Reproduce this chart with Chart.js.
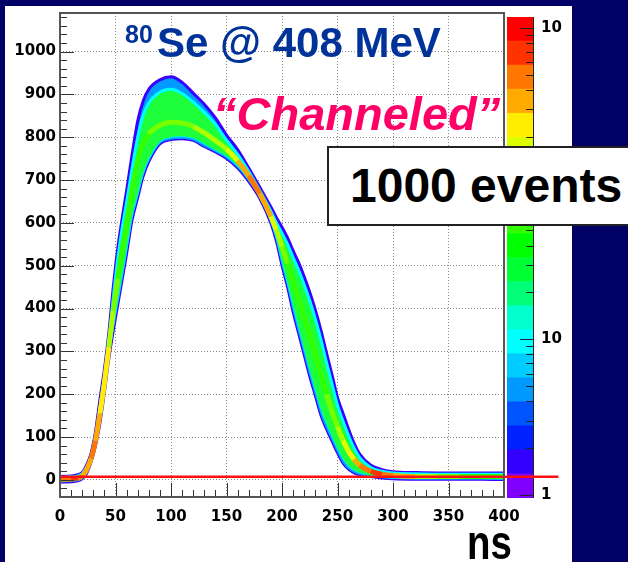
<!DOCTYPE html>
<html lang="en">
<head>
<meta charset="UTF-8">
<title>80Se @ 408 MeV - Channeled</title>
<script src="https://cdn.jsdelivr.net/npm/chart.js@4"></script>
<style>
  html, body { margin: 0; padding: 0; }
  body { width: 628px; height: 562px; background: #000066; position: relative; overflow: hidden;
         font-family: "Liberation Sans", Arial, sans-serif; }
  #panel { position: absolute; left: 5px; top: 6px; width: 567px; height: 556px; background: #fff; }
  #barCanvas { position: absolute; left: 500px; top: 0; z-index: 1; }
  #mainCanvas { position: absolute; left: 0; top: 0; z-index: 2; }
  .txt { position: absolute; z-index: 3; white-space: nowrap; font-weight: bold; }
  #iso { left: 125px; top: 22px; font-size: 25px; line-height: 25px; color: #003399; }
  #beam { left: 157px; top: 22px; font-size: 42px; line-height: 42px; color: #003399; }
  #chan { left: 213px; top: 90px; font-size: 47px; line-height: 47px; font-style: italic; color: #ff0066; }
  #events { left: 327px; top: 146px; width: 320px; height: 76px; border: 2px solid #222; background: #fff;
            font-size: 48px; line-height: 76px; padding-left: 21px; color: #000; }
  #unit { left: 467px; top: 519px; font-size: 48px; line-height: 48px; color: #000;
          transform: scaleX(0.8); transform-origin: left top; }
</style>
</head>
<body>
<div id="panel"></div>
<canvas id="barCanvas" width="80" height="520"></canvas>
<canvas id="mainCanvas" width="628" height="562"></canvas>
<div class="txt" id="iso">80</div>
<div class="txt" id="beam">Se @ 408 MeV</div>
<div class="txt" id="chan">“Channeled”</div>
<div class="txt" id="events">1000 events</div>
<div class="txt" id="unit">ns</div>
<script>
// sampling times (ns)
const timeNs = [0, 10, 16, 20, 24, 28, 32, 36, 40, 44, 48, 52, 56, 60, 65, 70, 75, 80, 90, 100,
  110, 120, 130, 140, 150, 160, 170, 180, 190, 195, 200, 205, 210, 215, 220, 225, 230, 235, 240, 245,
  250, 255, 260, 265, 270, 280, 290, 300, 320, 340, 360, 380, 400];

// outer edge of the pulse band (sparse bins)
const outerHigh = [8, 9, 12, 17, 35, 62, 113, 188, 258, 343, 450, 540, 610, 675, 760, 838, 885, 912, 934, 941,
  928, 903, 877, 845, 805, 771, 728, 683, 637, 612, 590, 565, 535, 507, 474, 438, 397, 350, 297, 246,
  192, 155, 118, 85, 60, 34, 24, 19, 17, 16, 16, 16, 16];
const outerLow = [-6, -5, -3, 2, 14, 40, 78, 130, 200, 280, 345, 405, 465, 525, 605, 657, 708, 742, 784, 794,
  796, 792, 778, 765, 750, 728, 696, 656, 598, 555, 498, 448, 390, 340, 290, 240, 195, 150, 118, 90,
  62, 38, 24, 16, 11, 7, 4, 2, 1, 1, 1, 1, 0];

// dense body of the band
const innerHigh = [6, 7, 9, 14, 30, 55, 100, 170, 240, 322, 425, 515, 588, 648, 728, 800, 852, 880, 905, 912,
  902, 882, 858, 830, 793, 760, 720, 675, 627, 600, 576, 550, 519, 489, 455, 418, 376, 328, 275, 224,
  174, 137, 103, 74, 52, 29, 20, 16, 14, 13, 13, 13, 13];
const innerLow = [-3, -2, 0, 4, 17, 45, 85, 140, 212, 292, 360, 420, 480, 540, 618, 668, 718, 750, 790, 800,
  802, 798, 785, 771, 756, 734, 702, 662, 606, 566, 512, 462, 408, 358, 308, 258, 212, 167, 133, 103,
  75, 50, 33, 23, 17, 11, 7, 5, 4, 4, 4, 4, 3];

// most populated path and its colour level (0 = fewest ... 19 = most)
const coreLine = [1, 2, 4, 9, 24, 50, 92, 155, 226, 310, 395, 470, 540, 600, 680, 745, 785, 808, 828, 835,
  833, 825, 810, 792, 772, 745, 710, 668, 615, 583, 545, 505, 462, 422, 380, 337, 292, 245, 200, 160,
  124, 92, 66, 48, 34, 20, 13, 10, 8, 8, 8, 8, 8];
const coreLevel = [17, 18, 17, 16, 16, 17, 16, 15, 15, 13, 12, 11, 11, 11, 11, 11, 11, 12, 12, 12,
  12, 13, 13, 13, 14, 16, 17, 16, 14, 13, 12, 11, 11, 11, 11, 11, 11, 11, 12, 12,
  13, 14, 15, 16, 17, 18, 17, 16, 13, 12, 11, 11, 11];

// colour palette of the z axis, bottom to top
const palette = ['#7f00ff', '#3300ff', '#0022ff', '#0055ff', '#0099ff', '#00ccff', '#00ffff', '#00ffcc',
  '#00ff77', '#00ff33', '#00ff00', '#33ff00', '#77ff00', '#aaff00', '#ddff00', '#ffee00',
  '#ffaa00', '#ff7700', '#ff3300', '#ff0000'];

// threshold line
const thresholdLevel = 7;
const thresholdSpan = [0, 449];

// axis ranges and labels
const xRange = [0, 400];
const yRange = [-40, 1090];
const colorbarRange = [0.957, 1175];
const colorbarTicks = [1, 10, 1000];
const colorbarTickText = ['1', '10', '10'];

const tickFont = { family: 'DejaVu Sans', weight: 'bold', size: 15 };

function points(values) {
  return timeNs.map((t, i) => ({ x: t, y: values[i] }));
}

// ticks drawn inside the frame, like the original
const frameTicks = {
  id: 'frameTicks',
  afterDraw(chart) {
    const { ctx, chartArea: a, scales: { x, y } } = chart;
    ctx.save();
    ctx.strokeStyle = '#333';
    ctx.lineWidth = 1;
    ctx.beginPath();
    for (let v = xRange[0]; v <= xRange[1]; v += 10) {
      const px = Math.round(x.getPixelForValue(v)) + 0.5;
      const len = v % 50 === 0 ? 14 : 7;
      ctx.moveTo(px, a.bottom);
      ctx.lineTo(px, a.bottom - len);
    }
    for (let v = -40; v <= 1080; v += 20) {
      const py = Math.round(y.getPixelForValue(v)) + 0.5;
      const len = v % 100 === 0 ? 14 : 7;
      ctx.moveTo(a.left, py);
      ctx.lineTo(a.left + len, py);
    }
    ctx.stroke();
    ctx.strokeStyle = '#555';
    ctx.lineWidth = 2;
    ctx.strokeRect(a.left, a.top, a.right - a.left, a.bottom - a.top);
    ctx.restore();
  }
};

const barTicks = {
  id: 'barTicks',
  afterDraw(chart) {
    const { ctx, chartArea: a } = chart;
    const s = chart.scales.y2;
    ctx.save();
    ctx.strokeStyle = '#222';
    ctx.lineWidth = 1;
    ctx.beginPath();
    for (let d = 1; d <= 1000; d *= 10) {
      for (let m = 1; m <= 9; m++) {
        const v = d * m;
        if (v > colorbarRange[1]) break;
        const py = Math.round(s.getPixelForValue(v)) + 0.5;
        const len = m === 1 ? 13 : 7;
        ctx.moveTo(a.right, py);
        ctx.lineTo(a.right - len, py);
      }
    }
    ctx.moveTo(a.right + 0.5, a.top);
    ctx.lineTo(a.right + 0.5, a.bottom);
    ctx.stroke();
    ctx.restore();
  }
};

// colour scale
new Chart(document.getElementById('barCanvas'), {
  type: 'bar',
  data: {
    labels: ['z'],
    datasets: palette.map(c => ({
      data: [1], backgroundColor: c, borderWidth: 0, yAxisID: 'y',
      barPercentage: 1, categoryPercentage: 1
    }))
  },
  options: {
    responsive: false,
    animation: false,
    layout: { padding: { left: 7, top: 13, right: 7, bottom: 22 } },
    plugins: { legend: { display: false }, tooltip: { enabled: false } },
    scales: {
      x: { display: false, stacked: true },
      y: { display: false, stacked: true, min: 0, max: palette.length },
      y2: {
        type: 'logarithmic', position: 'right',
        min: colorbarRange[0], max: colorbarRange[1],
        grid: { display: false, drawTicks: false },
        border: { display: false },
        afterBuildTicks: s => { s.ticks = colorbarTicks.map(v => ({ value: v })); },
        afterFit: s => { s.width = 40; },
        ticks: {
          font: tickFont, color: '#000', padding: 8,
          callback: v => colorbarTickText[colorbarTicks.indexOf(v)]
        }
      }
    }
  },
  plugins: [barTicks]
});

// pulse shapes
new Chart(document.getElementById('mainCanvas'), {
  type: 'line',
  data: {
    datasets: [
      {
        label: 'threshold',
        data: thresholdSpan.map(t => ({ x: t, y: thresholdLevel })),
        borderColor: '#ff1010', borderWidth: 2.5, clip: false, fill: false
      },
      {
        label: 'core',
        data: points(coreLine),
        borderColor: palette[11], borderWidth: 5, fill: false,
        segment: { borderColor: c => palette[coreLevel[c.p0DataIndex]] }
      },
      {
        label: 'body',
        data: points(innerHigh),
        borderColor: '#00ffff', borderWidth: 3, fill: '+1', backgroundColor: '#1eff3c'
      },
      {
        label: 'body low',
        data: points(innerLow),
        borderColor: '#00e5ff', borderWidth: 2, fill: false
      },
      {
        label: 'edge',
        data: points(outerHigh),
        borderColor: '#3a00ff', borderWidth: 3, fill: '+1', backgroundColor: '#0099ff'
      },
      {
        label: 'edge low',
        data: points(outerLow),
        borderColor: '#3a00ff', borderWidth: 2.5, fill: false
      }
    ]
  },
  options: {
    responsive: false,
    animation: false,
    layout: { padding: { left: 10, top: 13, right: 124, bottom: 35 } },
    elements: {
      point: { radius: 0 },
      line: { cubicInterpolationMode: 'monotone' }
    },
    plugins: { legend: { display: false }, tooltip: { enabled: false } },
    scales: {
      x: {
        type: 'linear', min: xRange[0], max: xRange[1],
        afterFit: s => { s.height = 30; },
        ticks: { stepSize: 50, font: tickFont, color: '#000', padding: 11, callback: v => String(v) },
        grid: { color: '#888', drawTicks: false },
        border: { display: false, dash: [1, 2] }
      },
      y: {
        min: yRange[0], max: yRange[1],
        afterFit: s => { s.width = 50; },
        ticks: { stepSize: 100, includeBounds: false, font: tickFont, color: '#000', padding: 4, callback: v => String(v) },
        grid: { color: '#888', drawTicks: false },
        border: { display: false, dash: [1, 2] }
      }
    }
  },
  plugins: [frameTicks]
});
</script>
</body>
</html>
